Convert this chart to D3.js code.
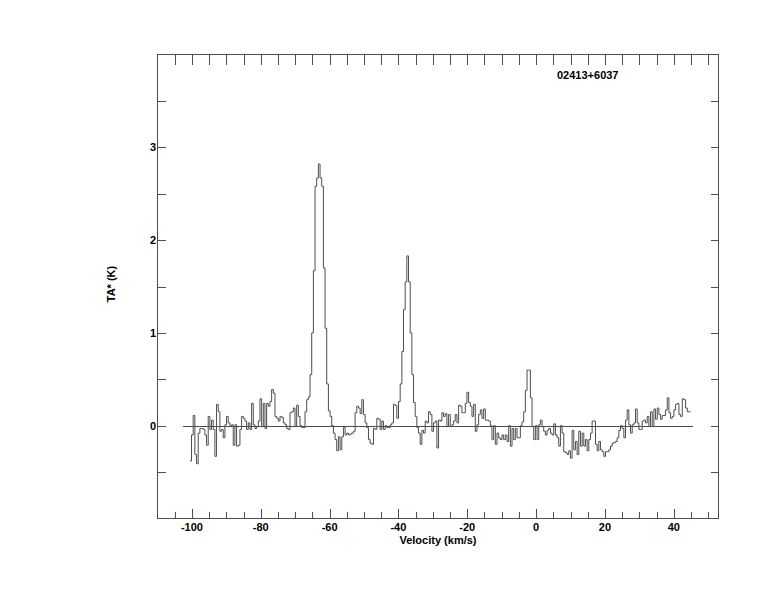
<!DOCTYPE html>
<html>
<head>
<meta charset="utf-8">
<script src="https://cdn.jsdelivr.net/npm/d3@7"></script>
<style>
  html, body { margin: 0; padding: 0; background: #fff; }
  svg text { font-family: "Liberation Sans", Arial, Helvetica, sans-serif; font-weight: bold; fill: #000; }
</style>
</head>
<body>
<svg id="chart" width="774" height="612"></svg>
<script>
// ---- data ----
const sourceName = "02413+6037";
const xLabel = "Velocity (km/s)";
const yLabel = "TA* (K)";
const vStart = -100.6;     // left edge of first channel (km/s)
const chanWidth = 0.485;   // channel width (km/s)
const baselineRange = [-102.5, 45.5];
const xTickLabels = [-100, -80, -60, -40, -20, 0, 20, 40];
const yTickLabels = [0, 1, 2, 3];
const xDomain = [-110, 53];
const yDomain = [-1, 4];

const taBlue = [
  -0.38, -0.10, 0.11, -0.31, -0.41, -0.08, -0.03, -0.03, -0.04, -0.10,
  -0.21, 0.10, -0.04, 0.06, -0.04, -0.33, 0.23, 0.15, -0.06, -0.04,
  -0.13, 0.01, 0.10, 0.03, -0.01, 0.01, -0.21, 0.01, -0.22, -0.21,
  -0.04, 0.10, 0.08, 0.05, -0.04, 0.03, -0.04, 0.24, 0.01, -0.03,
  -0.01, 0.05, 0.29, -0.01, 0.24, -0.03, 0.24, 0.21, 0.26, 0.39,
  0.35, 0.10, 0.08, 0.05, 0.10, 0.09, 0.03, 0.01, -0.03, -0.04,
  0.14, 0.15, 0.19, -0.01, 0.22, 0.10
];
const taPeak1 = [
  0.00, -0.02, -0.02, 0.15, 0.28, 0.31, 0.55, 1.00, 1.67, 2.58,
  2.67, 2.82, 2.67, 2.58, 1.70, 1.05, 0.45, 0.16, 0.10, 0.00,
  -0.08, -0.15, -0.27, -0.12, -0.26, -0.12, -0.02
];
const taMid = [
  -0.10, -0.08, -0.10, -0.09, -0.08, -0.06, 0.14, 0.21, 0.19, 0.13,
  0.28, 0.12, 0.03, -0.02, -0.15, -0.19, -0.20, -0.03, -0.04, 0.08,
  0.07, -0.04, 0.05, -0.04, 0.00, -0.02, -0.02, 0.01, 0.03, 0.23
];
const taPeak2 = [
  0.22, 0.08, 0.26, 0.45, 0.80, 1.25, 1.55, 1.83, 1.55, 1.00,
  0.55, 0.25, 0.10, -0.02, -0.08
];
const taRed1 = [
  -0.20, -0.05, -0.08, 0.05, 0.03, 0.15, 0.12, -0.06, 0.03, 0.05,
  -0.24, 0.06, 0.05, 0.14, 0.10, 0.13, -0.01, 0.12, -0.01, 0.01,
  0.05, 0.12, 0.03, 0.22, 0.21, 0.14, 0.14, 0.24, 0.36, 0.25,
  0.21, 0.10, 0.23, -0.06, 0.01, 0.12, 0.17, 0.08, 0.18, 0.06,
  0.06, 0.05, 0.00, -0.15, 0.00, -0.20, -0.08, -0.13, -0.15, -0.10,
  -0.15, -0.10, -0.17, 0.00, -0.22, -0.03, -0.15, -0.03, -0.13
];
const taPeak3 = [
  -0.13, 0.00, 0.04, 0.15, 0.38, 0.60, 0.60, 0.30, -0.01, -0.15,
  0.00, -0.15, 0.01, 0.06, -0.01, -0.06
];
const taRed2 = [
  -0.10, -0.05, -0.03, -0.08, -0.10, 0.02, -0.10, -0.13, -0.22, 0.00,
  -0.08, -0.28, -0.29, -0.31, -0.27, -0.35, -0.05, -0.26, -0.17, -0.31,
  -0.06, -0.22, -0.08, -0.22, -0.15, -0.27, -0.15, -0.08, 0.05, 0.05,
  -0.20, -0.27, -0.17, -0.26, -0.28, -0.33, -0.28, -0.28, -0.26, -0.22,
  -0.19, -0.18, -0.17, -0.13, -0.05
];
const taRed3 = [
  0.00, -0.03, -0.13, 0.06, 0.17, 0.01, -0.08, 0.01, 0.03, 0.18,
  0.03, -0.04, -0.04, 0.05, 0.06, 0.03, 0.10, -0.01, 0.15, -0.01,
  0.18, 0.07, 0.19, 0.12, 0.07, 0.11, 0.11, 0.17, 0.30, 0.14,
  0.08, 0.10, 0.17, 0.23, 0.24, 0.12, 0.10, 0.29, 0.28, 0.19,
  0.15, 0.15
];

// ---- chart ----
const ta = [].concat(taBlue, taPeak1, taMid, taPeak2, taRed1, taPeak3, taRed2, taRed3);
const spectrum = ta.map((t, i) => ({ v: vStart + i * chanWidth, t }));
spectrum.push({ v: vStart + ta.length * chanWidth, t: ta[ta.length - 1] });

const svg = d3.select("#chart");
const pL = 157.5, pR = 718.5, pT = 54.5, pB = 518.5;
const lineColor = "#4d4d4d";

const x = d3.scaleLinear().domain(xDomain).range([pL, pR]);
const y = d3.scaleLinear().domain(yDomain).range([pB, pT]);

// frame
svg.append("rect")
  .attr("x", pL).attr("y", pT)
  .attr("width", pR - pL).attr("height", pB - pT)
  .attr("fill", "none").attr("stroke", lineColor).attr("stroke-width", 1)
  .attr("shape-rendering", "crispEdges");

const tickG = svg.append("g").attr("stroke", lineColor).attr("stroke-width", 1)
  .attr("shape-rendering", "crispEdges");

// x ticks every 5 km/s on top and bottom
const xTicks = d3.range(-105, 53, 5);
xTicks.forEach(v => {
  const xx = Math.round(x(v)) + 0.5;
  const major = xTickLabels.includes(v);
  const lenB = major ? 10 : 7;
  tickG.append("line").attr("x1", xx).attr("x2", xx).attr("y1", pB).attr("y2", pB - lenB);
  tickG.append("line").attr("x1", xx).attr("x2", xx).attr("y1", pT).attr("y2", pT + 10);
});

// y ticks every 0.5 K on left and right
const yTicks = d3.range(-0.5, 4, 0.5);
yTicks.forEach(t => {
  const yy = Math.round(y(t)) + 0.5;
  tickG.append("line").attr("x1", pL).attr("x2", pL + 8).attr("y1", yy).attr("y2", yy);
  tickG.append("line").attr("x1", pR).attr("x2", pR - 8).attr("y1", yy).attr("y2", yy);
});

// tick labels
svg.append("g").selectAll("text").data(xTickLabels).join("text")
  .attr("x", d => x(d)).attr("y", 531)
  .attr("text-anchor", "middle").attr("font-size", 11)
  .text(d => d);

svg.append("g").selectAll("text").data(yTickLabels).join("text")
  .attr("x", 156).attr("y", d => y(d) + 4)
  .attr("text-anchor", "end").attr("font-size", 11)
  .text(d => d);

// axis titles
svg.append("text").attr("x", (pL + pR) / 2).attr("y", 544)
  .attr("text-anchor", "middle").attr("font-size", 11).text(xLabel);
svg.append("text")
  .attr("transform", "translate(115,284) rotate(-90)")
  .attr("text-anchor", "middle").attr("font-size", 11).text(yLabel);

// source name
svg.append("text").attr("x", 557).attr("y", 79)
  .attr("font-size", 11).text(sourceName);

// zero baseline
svg.append("line")
  .attr("x1", x(baselineRange[0])).attr("x2", x(baselineRange[1]))
  .attr("y1", Math.round(y(0)) + 0.5).attr("y2", Math.round(y(0)) + 0.5)
  .attr("stroke", lineColor).attr("stroke-width", 1)
  .attr("shape-rendering", "crispEdges");

// spectrum
const line = d3.line().x(d => x(d.v)).y(d => y(d.t)).curve(d3.curveStepAfter);
svg.append("path").datum(spectrum)
  .attr("d", line)
  .attr("fill", "none").attr("stroke", lineColor).attr("stroke-width", 1);
</script>
</body>
</html>
